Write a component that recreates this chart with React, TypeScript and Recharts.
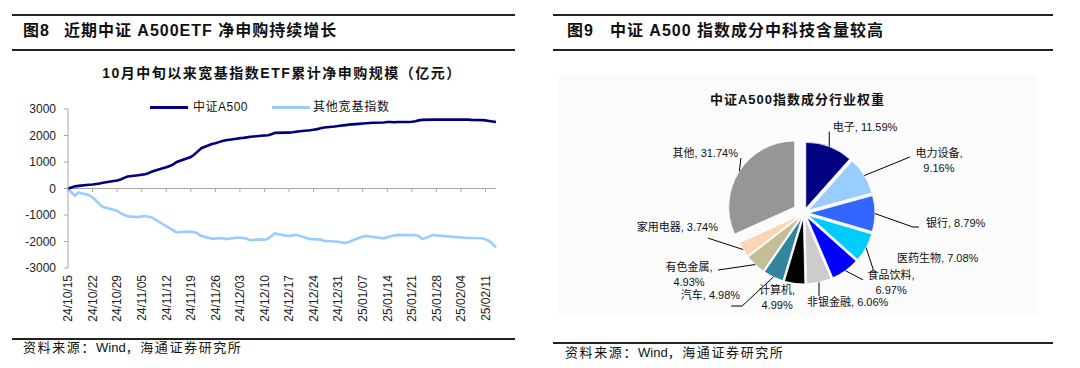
import React from 'react';
import { LineChart, Line, XAxis, YAxis, ReferenceLine, PieChart, Pie, Cell } from 'recharts';

// ---------------- data: left chart ----------------
const tradeDates = [
  '24/10/15', '24/10/16', '24/10/17', '24/10/18', '24/10/21', '24/10/22', '24/10/23', '24/10/24', '24/10/25', '24/10/28', '24/10/29', '24/10/30', '24/10/31',
  '24/11/01', '24/11/04', '24/11/05', '24/11/06', '24/11/07', '24/11/08', '24/11/11', '24/11/12', '24/11/13', '24/11/14', '24/11/15', '24/11/18', '24/11/19', '24/11/20', '24/11/21', '24/11/22', '24/11/25', '24/11/26', '24/11/27', '24/11/28', '24/11/29',
  '24/12/02', '24/12/03', '24/12/04', '24/12/05', '24/12/06', '24/12/09', '24/12/10', '24/12/11', '24/12/12', '24/12/13', '24/12/16', '24/12/17', '24/12/18', '24/12/19', '24/12/20', '24/12/23', '24/12/24', '24/12/25', '24/12/26', '24/12/27', '24/12/30', '24/12/31',
  '25/01/02', '25/01/03', '25/01/06', '25/01/07', '25/01/08', '25/01/09', '25/01/10', '25/01/13', '25/01/14', '25/01/15', '25/01/16', '25/01/17', '25/01/20', '25/01/21', '25/01/22', '25/01/23', '25/01/24', '25/01/27',
  '25/02/05', '25/02/06', '25/02/07', '25/02/10', '25/02/11', '25/02/12', '25/02/13', '25/02/14',
];

const a500Flow = [
  0, 40, 80, 100, 140, 150, 170, 190, 215, 280, 300, 340, 400,
  450, 500, 520, 540, 580, 640, 760, 800, 850, 910, 1000, 1140, 1190, 1280, 1400, 1520, 1680, 1710, 1750, 1790, 1820,
  1880, 1900, 1910, 1930, 1950, 1990, 2000, 2010, 2050, 2100, 2110, 2110, 2120, 2140, 2160, 2200, 2220, 2240, 2270, 2300, 2340, 2360,
  2390, 2410, 2440, 2450, 2460, 2470, 2480, 2490, 2510, 2510, 2500, 2510, 2510, 2520, 2540, 2570, 2590, 2600,
  2600, 2600, 2590, 2580, 2570, 2550, 2530, 2510,
];

const otherBroadFlow = [
  0, -150, -270, -150, -250, -330, -460, -600, -700, -800, -840, -930, -1000,
  -1050, -1080, -1060, -1040, -1070, -1100, -1340, -1420, -1500, -1580, -1660, -1620, -1630, -1640, -1700, -1790, -1890, -1890, -1880, -1870, -1910,
  -1860, -1860, -1870, -1900, -1950, -1920, -1930, -1900, -1790, -1690, -1780, -1790, -1770, -1740, -1780, -1910, -1910, -1920, -1930, -1970, -2000, -2010,
  -2060, -2020, -1860, -1820, -1790, -1810, -1830, -1880, -1840, -1800, -1770, -1750, -1760, -1760, -1760, -1790, -1910, -1760,
  -1860, -1870, -1870, -1880, -1920, -1980, -2080, -2220,
];

const xTickLabels = [
  '24/10/15', '24/10/22', '24/10/29', '24/11/05', '24/11/12', '24/11/19', '24/11/26', '24/12/03', '24/12/10',
  '24/12/17', '24/12/24', '24/12/31', '25/01/07', '25/01/14', '25/01/21', '25/01/28', '25/02/04', '25/02/11',
];
const xAxisStart = '24/10/15';
const xAxisEnd = '25/02/14';
const yTicks = [-3000, -2000, -1000, 0, 1000, 2000, 3000];

// ---------------- data: right chart ----------------
const sectorNames = ['电子', '电力设备', '银行', '医药生物', '食品饮料', '非银金融', '计算机', '汽车', '有色金属', '家用电器', '其他'];
const sectorWeights = [11.59, 9.16, 8.79, 7.08, 6.97, 6.06, 4.99, 4.98, 4.93, 3.74, 31.74];

// ---------------- styles ----------------
const sectorColors = ['#000080', '#99ccff', '#3366ff', '#00ccff', '#0000ff', '#cccccc', '#000000', '#31859c', '#c4bd97', '#fcd5b5', '#969696'];
const explodeDist: Record<string, number> = { '其他': 11 };
const defaultExplode = 5;

type LabelStyle = { leader: [number, number][]; tx: number; ty: number; anchor: 'start' | 'middle' | 'end'; wrap: boolean };
const labelLayout: Record<string, LabelStyle> = {
  '电子': { leader: [[0, -15]], tx: 3.5, ty: -15.5, anchor: 'start', wrap: false },
  '电力设备': { leader: [[45.6, -18.6]], tx: 74.6, ty: -18.6, anchor: 'middle', wrap: true },
  '银行': { leader: [[38, 13.4], [44, 13.4]], tx: 51, ty: 13.4, anchor: 'start', wrap: false },
  '医药生物': { leader: [[7, 21.5]], tx: 31, ty: 14.5, anchor: 'start', wrap: false },
  '食品饮料': { leader: [[17.7, 9.2]], tx: 45.7, ty: 8.2, anchor: 'middle', wrap: true },
  '非银金融': { leader: [[0, 13.6]], tx: -12, ty: 23.6, anchor: 'start', wrap: false },
  '计算机': { leader: [], tx: -17.4, ty: 10.6, anchor: 'middle', wrap: true },
  '汽车': { leader: [[-31.2, 29], [-42.2, 29]], tx: -33.2, ty: 22, anchor: 'end', wrap: false },
  '有色金属': { leader: [[-37.2, 5.5]], tx: -66.2, ty: 6.5, anchor: 'middle', wrap: true },
  '家用电器': { leader: [[-35.1, -11.4]], tx: -25.1, ty: -18.4, anchor: 'end', wrap: false },
  '其他': { leader: [[1.6, -13.1]], tx: -1.4, ty: -14.1, anchor: 'end', wrap: false },
};

const SANS = '"Liberation Sans", Arial, "Noto Sans CJK SC", sans-serif';
const RAD = Math.PI / 180;

// ---------------- helpers ----------------
const dayIndex = (s: string) => {
  const [yy, mm, dd] = s.split('/').map(Number);
  const [y0, m0, d0] = xAxisStart.split('/').map(Number);
  return Math.round((Date.UTC(2000 + yy, mm - 1, dd) - Date.UTC(2000 + y0, m0 - 1, d0)) / 86400000);
};

const lineData = tradeDates.map((d, i) => ({ day: dayIndex(d), date: d, a500: a500Flow[i], other: otherBroadFlow[i] }));
const xTickDays = xTickLabels.map(dayIndex);
const labelByDay: Record<number, string> = {};
xTickLabels.forEach((l) => { labelByDay[dayIndex(l)] = l; });

const pieData = sectorNames.map((n, i) => ({ name: n, value: sectorWeights[i] }));
const weightTotal = sectorWeights.reduce((a, b) => a + b, 0);
const explodeOffsets = (() => {
  let cum = 0;
  return sectorWeights.map((w, i) => {
    const mid = 90 - (360 * (cum + w / 2)) / weightTotal;
    cum += w;
    const d = explodeDist[sectorNames[i]] ?? defaultExplode;
    return { dx: d * Math.cos(mid * RAD), dy: -d * Math.sin(mid * RAD) };
  });
})();

const XTick = (props: any) => {
  const { x, y, payload } = props;
  return (
    <text
      x={0}
      y={0}
      transform={`translate(${x},${y}) rotate(-90)`}
      textAnchor="end"
      dy="0.36em"
      fontSize={12}
      fill="#222"
      fontFamily={SANS}
    >
      {labelByDay[payload.value]}
    </text>
  );
};

const makeLabel = (only: number) => (p: any) => {
  if (p.index !== only) return null;
  const a = -p.midAngle * RAD;
  const ex = p.cx + p.outerRadius * Math.cos(a);
  const ey = p.cy + p.outerRadius * Math.sin(a);
  const L = labelLayout[p.name];
  const pct = `${Number(p.value).toFixed(2)}%`;
  const pts = [[0, 0], ...L.leader].map(([dx, dy]) => `${ex + dx},${ey + dy}`).join(' ');
  const tx = ex + L.tx;
  const ty = ey + L.ty;
  return (
    <g>
      {L.leader.length > 0 && <polyline points={pts} fill="none" stroke="#000" strokeWidth={1} />}
      <text x={tx} y={ty} textAnchor={L.anchor} fontSize={11} fill="#111" fontFamily={SANS}>
        {L.wrap ? (
          <>
            <tspan x={tx}>{`${p.name},`}</tspan>
            <tspan x={tx} dy={15}>{pct}</tspan>
          </>
        ) : (
          `${p.name}, ${pct}`
        )}
      </text>
    </g>
  );
};

const Rule = ({ x, y, w, h = 2 }: { x: number; y: number; w: number; h?: number }) => (
  <div style={{ position: 'absolute', left: x, top: y - h / 2, width: w, height: h, background: '#222' }} />
);

const abs = (l: number, t: number, extra: React.CSSProperties = {}): React.CSSProperties => ({
  position: 'absolute', left: l, top: t, whiteSpace: 'pre', fontFamily: SANS, ...extra,
});

const Source = ({ x, y }: { x: number; y: number }) => (
  <div style={abs(x, y, { fontSize: 13, lineHeight: '16px' })}>
    <span style={{ letterSpacing: 1.6 }}>资料来源：</span>Wind<span style={{ letterSpacing: 1.6 }}>，海通证券研究所</span>
  </div>
);

const PIE_LEFT = 540;
const PIE_TOP = 60;
const PIE_CX = 804 - PIE_LEFT;
const PIE_CY = 213 - PIE_TOP;

export default function App() {
  return (
    <div style={{ position: 'absolute', left: 0, top: 0, width: 1080, height: 368, background: '#fff', overflow: 'hidden', fontFamily: SANS, color: '#111' }}>
      {/* ---------- left panel ---------- */}
      <Rule x={12} y={15} w={503} />
      <div style={abs(23, 22, { fontSize: 16, lineHeight: '18px', fontWeight: 'bold', letterSpacing: 1 })}>
        <span style={{ marginRight: 14 }}>图8</span>近期中证 A500ETF 净申购持续增长
      </div>
      <Rule x={12} y={50} w={503} h={1.6} />
      <div style={abs(0, 64, { width: 564, textAlign: 'center', fontSize: 14, lineHeight: '18px', fontWeight: 'bold', letterSpacing: 1.5 })}>
        10月中旬以来宽基指数ETF累计净申购规模（亿元）
      </div>

      <div style={{ position: 'absolute', left: 0, top: 85 }}>
        <LineChart width={520} height={255} data={lineData} margin={{ top: 24, right: 24, bottom: 0, left: 0 }}>
          <XAxis
            type="number"
            dataKey="day"
            domain={[0, dayIndex(xAxisEnd)]}
            ticks={xTickDays}
            interval={0}
            axisLine={false}
            tickLine={false}
            tickSize={0}
            tickMargin={7}
            height={72}
            tick={<XTick />}
          />
          <YAxis
            domain={[-3000, 3000]}
            ticks={yTicks}
            interval={0}
            width={68}
            tickSize={4}
            tickMargin={8}
            stroke="#a6a6a6"
            tick={{ fill: '#222', fontSize: 12, fontFamily: SANS }}
          />
          <ReferenceLine y={0} stroke="#a6a6a6" strokeWidth={1} />
          {xTickDays.map((d) => (
            <ReferenceLine key={d} segment={[{ x: d, y: 0 }, { x: d, y: -130 }]} stroke="#a6a6a6" strokeWidth={1} />
          ))}
          <Line type="linear" dataKey="other" stroke="#99ccff" strokeWidth={2.6} dot={false} isAnimationActive={false} />
          <Line type="linear" dataKey="a500" stroke="#000080" strokeWidth={2.6} dot={false} isAnimationActive={false} />
        </LineChart>
      </div>

      {/* legend */}
      <div style={abs(150, 106, { width: 38, height: 3, background: '#000080' })} />
      <div style={abs(193, 99, { fontSize: 12, lineHeight: '16px', letterSpacing: 0.5 })}>中证A500</div>
      <div style={abs(272, 106, { width: 38, height: 3, background: '#99ccff' })} />
      <div style={abs(313, 99, { fontSize: 12, lineHeight: '16px', letterSpacing: 0.8 })}>其他宽基指数</div>

      <Rule x={12} y={339} w={503} />
      <Source x={23} y={340} />

      {/* ---------- right panel ---------- */}
      <Rule x={553} y={15} w={500} />
      <div style={abs(567, 22, { fontSize: 16, lineHeight: '18px', fontWeight: 'bold', letterSpacing: 1 })}>
        <span style={{ marginRight: 16 }}>图9</span>中证 A500 指数成分中科技含量较高
      </div>
      <Rule x={553} y={50} w={500} h={1.6} />
      <div style={abs(558, 75, { width: 479, height: 240, background: '#fbfbfb' })} />
      <div style={abs(558, 92, { width: 479, textAlign: 'center', fontSize: 13, lineHeight: '16px', fontWeight: 'bold', letterSpacing: 1 })}>
        中证A500指数成分行业权重
      </div>

      <div style={{ position: 'absolute', left: PIE_LEFT, top: PIE_TOP }}>
        <PieChart width={500} height={265} margin={{ top: 0, right: 0, bottom: 0, left: 0 }}>
          {sectorNames.map((n, i) => (
            <Pie
              key={n}
              data={pieData}
              dataKey="value"
              nameKey="name"
              cx={PIE_CX + explodeOffsets[i].dx}
              cy={PIE_CY + explodeOffsets[i].dy}
              innerRadius={0}
              outerRadius={66}
              startAngle={90}
              endAngle={-270}
              isAnimationActive={false}
              labelLine={false}
              label={makeLabel(i)}
            >
              {pieData.map((d, j) => (
                <Cell
                  key={d.name}
                  fill={j === i ? sectorColors[j] : 'transparent'}
                  stroke={j === i ? '#ffffff' : 'none'}
                  strokeWidth={j === i ? 0.8 : 0}
                />
              ))}
            </Pie>
          ))}
        </PieChart>
      </div>

      <Rule x={553} y={343} w={500} />
      <Source x={565} y={345} />
    </div>
  );
}
